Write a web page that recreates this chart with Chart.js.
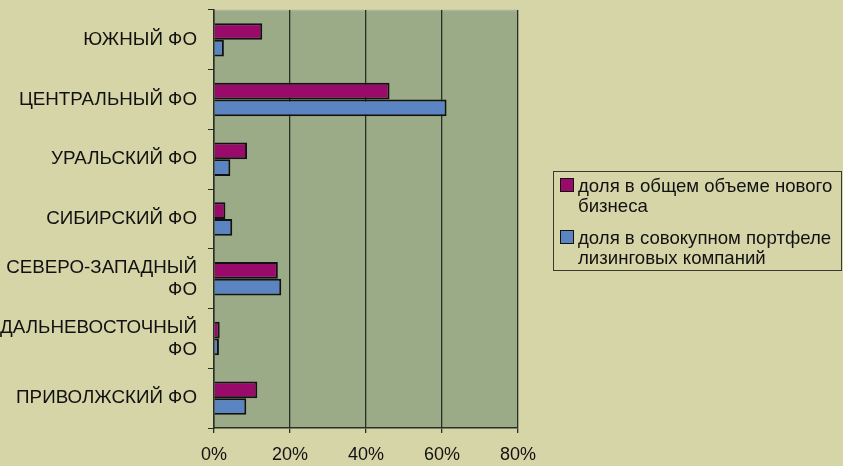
<!DOCTYPE html>
<html>
<head>
<meta charset="utf-8">
<script src="https://cdn.jsdelivr.net/npm/chart.js@4/dist/chart.umd.min.js"></script>
<style>
    body { margin: 0; background: #d6d5a8; font-family: "Liberation Sans", Arial, sans-serif; }
    #wrap { position: relative; width: 843px; height: 466px; overflow: hidden; }
    #legend { position: absolute; left: 553px; top: 171px; width: 289px; height: 100px;
              border: 1px solid #3a3a30; box-sizing: border-box; padding: 4px 0 0 0; }
    .item { position: relative; padding-left: 24px; font-size: 18.6px; line-height: 19.5px; color: #111; margin-bottom: 13px; white-space: nowrap; }
    .box { position: absolute; left: 6px; top: 2px; width: 12px; height: 12px; border: 1px solid #111; }
</style>
</head>
<body>
<div id="wrap">
    <canvas id="chart" width="843" height="466"></canvas>
    <div id="legend"></div>
</div>
<script>
// Chart data
var regions = [
    "ЮЖНЫЙ ФО",
    "ЦЕНТРАЛЬНЫЙ ФО",
    "УРАЛЬСКИЙ ФО",
    "СИБИРСКИЙ ФО",
    ["СЕВЕРО-ЗАПАДНЫЙ", "ФО"],
    ["ДАЛЬНЕВОСТОЧНЫЙ", "ФО"],
    "ПРИВОЛЖСКИЙ ФО"
]
var newBusiness = [12.7, 46.2, 8.7, 3.0, 16.8, 1.5, 11.4]
var portfolio = [2.6, 61.2, 4.3, 4.8, 17.7, 1.3, 8.5]
var seriesNames = [
    ["доля в общем объеме нового", "бизнеса"],
    ["доля в совокупном портфеле", "лизинговых компаний"]
]
var seriesColors = ["#990a6b", "#5b84c2"]
var xTicks = [0, 20, 40, 60, 80]

// Legend (html so the text wraps like the original)
var legendHtml = ""
seriesNames.forEach(function(lines, i) {
    legendHtml += '<div class="item"><span class="box" style="background:' + seriesColors[i] + '"></span>' + lines.join("<br>") + '</div>'
})
document.getElementById("legend").innerHTML = legendHtml

// Green plot background
var plotBg = {
    id: "plotBg",
    beforeDraw: function(chart) {
        var a = chart.chartArea, ctx = chart.ctx
        ctx.save()
        ctx.fillStyle = "#9cab87"
        ctx.fillRect(a.left, a.top, a.right - a.left, a.bottom - a.top)
        ctx.strokeStyle = "#aab498"
        ctx.lineWidth = 1.5
        ctx.beginPath()
        ctx.moveTo(a.left, a.top + 0.5)
        ctx.lineTo(a.right, a.top + 0.5)
        ctx.stroke()
        ctx.restore()
    }
}

var yFont = { family: "'Liberation Sans', Arial, sans-serif", size: 18.8, lineHeight: 1.17 }
var xFont = { family: "'Liberation Sans', Arial, sans-serif", size: 18 }

new Chart(document.getElementById("chart"), {
    type: "bar",
    data: {
        labels: regions,
        datasets: [{
            label: seriesNames[0].join(" "),
            data: newBusiness,
            backgroundColor: seriesColors[0],
            borderColor: "#111",
            borderWidth: 2
        }, {
            label: seriesNames[1].join(" "),
            data: portfolio,
            backgroundColor: seriesColors[1],
            borderColor: "#111",
            borderWidth: 2
        }]
    },
    options: {
        indexAxis: "y",
        responsive: false,
        animation: false,
        layout: { padding: { top: 10, right: 325, left: 0, bottom: 0 } },
        datasets: { bar: { categoryPercentage: 0.56, barPercentage: 1.0 } },
        plugins: { legend: { display: false }, tooltip: { enabled: false } },
        scales: {
            x: {
                min: 0,
                max: 80,
                afterBuildTicks: function(scale) {
                    scale.ticks = xTicks.map(function(v) { return { value: v } })
                },
                afterFit: function(scale) { scale.height = 38 },
                grid: { color: "#273022", lineWidth: 1.3, tickLength: 5, drawTicks: true },
                border: { color: "#273022", width: 1.5 },
                ticks: {
                    color: "#111",
                    font: xFont,
                    padding: 11,
                    callback: function(v) { return v + "%" }
                }
            },
            y: {
                afterFit: function(scale) {
                    scale.width = 214
                    scale.paddingTop = 0
                    scale.paddingBottom = 0
                },
                grid: { drawOnChartArea: false, color: "#273022", tickLength: 6, offset: true },
                border: { color: "#273022", width: 1.5 },
                ticks: { color: "#111", font: yFont, padding: 11 }
            }
        }
    },
    plugins: [plotBg]
})
</script>
</body>
</html>
